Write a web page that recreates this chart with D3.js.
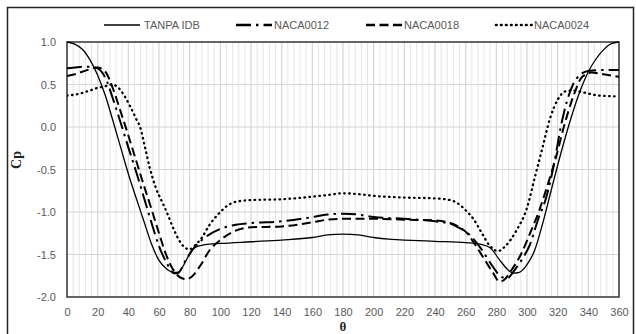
<!DOCTYPE html>
<html>
<head>
<meta charset="utf-8">
<script src="https://cdn.jsdelivr.net/npm/d3@7"></script>
<style>
  body { margin: 0; background: #fff; }
  svg { display: block; font-family: "Liberation Sans", Arial, sans-serif; }
</style>
</head>
<body>
<svg id="chart" width="636" height="334"></svg>
<script>
// Cp around the section (theta in degrees)
const tanpaTheta = [0, 5, 10, 15, 20, 25, 30, 35, 40, 45, 50, 55, 60, 65, 70, 72, 83, 90, 100, 120, 140, 160, 170, 180, 190, 200, 210, 220, 240, 260, 270, 276, 282, 287, 291, 295, 300, 305, 310, 315, 320, 325, 330, 335, 340, 345, 350, 355, 360];
const tanpaCp = [1.0, 0.975, 0.915, 0.79, 0.61, 0.37, 0.07, -0.24, -0.55, -0.83, -1.1, -1.37, -1.57, -1.67, -1.71, -1.71, -1.42, -1.385, -1.37, -1.35, -1.33, -1.30, -1.27, -1.26, -1.27, -1.30, -1.32, -1.33, -1.345, -1.36, -1.38, -1.42, -1.56, -1.67, -1.72, -1.71, -1.62, -1.45, -1.15, -0.8, -0.45, -0.12, 0.18, 0.44, 0.65, 0.8, 0.91, 0.98, 1.0];

const naca12Theta = [0, 5, 10, 15, 20, 25, 30, 35, 40, 45, 50, 55, 60, 65, 70, 72, 78, 83, 90, 100, 110, 120, 140, 160, 170, 180, 190, 200, 220, 240, 250, 255, 262, 270, 278, 283, 287, 292, 297, 302, 307, 313, 318, 322, 326, 330, 335, 340, 350, 360];
const naca12Cp = [0.69, 0.70, 0.71, 0.71, 0.69, 0.58, 0.33, 0.05, -0.24, -0.52, -0.82, -1.12, -1.4, -1.6, -1.72, -1.72, -1.55, -1.42, -1.3, -1.2, -1.15, -1.13, -1.11, -1.06, -1.03, -1.02, -1.03, -1.06, -1.08, -1.11, -1.14, -1.18, -1.26, -1.43, -1.65, -1.76, -1.78, -1.68, -1.55, -1.38, -1.1, -0.8, -0.4, 0.0, 0.3, 0.5, 0.62, 0.66, 0.67, 0.67];

const naca18Theta = [0, 5, 10, 15, 20, 25, 30, 35, 40, 45, 50, 55, 60, 65, 70, 75, 78, 82, 87, 93, 100, 110, 120, 140, 160, 170, 180, 190, 200, 220, 240, 250, 255, 261, 266, 272, 278, 282, 285, 290, 296, 302, 308, 314, 319, 324, 330, 336, 342, 350, 360];
const naca18Cp = [0.60, 0.62, 0.65, 0.68, 0.70, 0.65, 0.45, 0.18, -0.1, -0.39, -0.68, -0.96, -1.25, -1.52, -1.7, -1.78, -1.79, -1.75, -1.63, -1.45, -1.33, -1.22, -1.18, -1.17, -1.12, -1.09, -1.08, -1.08, -1.08, -1.09, -1.1, -1.13, -1.17, -1.25, -1.38, -1.55, -1.72, -1.82, -1.8, -1.68, -1.5, -1.25, -0.98, -0.65, -0.35, 0.0, 0.35, 0.59, 0.64, 0.62, 0.59];

const naca24Theta = [0, 5, 10, 15, 20, 25, 29, 33, 37, 41, 45, 48, 51, 54, 58, 62, 65, 70, 73, 77, 80, 83, 88, 93, 100, 105, 110, 120, 140, 160, 170, 180, 190, 200, 220, 240, 250, 255, 260, 265, 270, 275, 281, 286, 293, 300, 305, 310, 315, 320, 325, 330, 336, 347, 360];
const naca24Cp = [0.37, 0.38, 0.40, 0.43, 0.46, 0.48, 0.50, 0.47, 0.38, 0.25, 0.1, -0.02, -0.25, -0.48, -0.72, -0.88, -1.0, -1.22, -1.33, -1.42, -1.44, -1.4, -1.3, -1.15, -1.0, -0.92, -0.88, -0.86, -0.85, -0.82, -0.8, -0.78, -0.79, -0.81, -0.83, -0.84, -0.86, -0.9, -0.98, -1.08, -1.23, -1.38, -1.46, -1.4, -1.22, -0.95, -0.6, -0.25, 0.1, 0.32, 0.42, 0.43, 0.41, 0.37, 0.36];

const seriesNames = ["TANPA IDB", "NACA0012", "NACA0018", "NACA0024"];
const xTicks = [0, 20, 40, 60, 80, 100, 120, 140, 160, 180, 200, 220, 240, 260, 280, 300, 320, 340, 360];
const xMinorTicks = d3.range(0, 361, 4);
const yTicks = [-2.0, -1.5, -1.0, -0.5, 0.0, 0.5, 1.0];

const svg = d3.select("#chart");
const m = { left: 67, right: 17, top: 42, bottom: 37 };
const W = 636, H = 334;

const x = d3.scaleLinear().domain([0, 360]).range([m.left, W - m.right]);
const y = d3.scaleLinear().domain([-2, 1]).range([H - m.bottom, m.top]);

// outer chart border
svg.append("rect")
  .attr("x", 7.5).attr("y", 7.5)
  .attr("width", 626).attr("height", 340)
  .attr("fill", "none")
  .attr("stroke", "#222")
  .attr("stroke-width", 1.5);

// minor vertical grid
svg.append("g")
  .selectAll("line")
  .data(xMinorTicks.filter(t => t % 20 !== 0))
  .join("line")
  .attr("x1", d => x(d)).attr("x2", d => x(d))
  .attr("y1", y(1)).attr("y2", y(-2))
  .attr("stroke", "#e6e6e6");

// major grid
svg.append("g")
  .selectAll("line")
  .data(xTicks)
  .join("line")
  .attr("x1", d => x(d)).attr("x2", d => x(d))
  .attr("y1", y(1)).attr("y2", y(-2))
  .attr("stroke", "#d6d6d6")
  .attr("stroke-width", 1.2);

svg.append("g")
  .selectAll("line")
  .data(yTicks)
  .join("line")
  .attr("x1", x(0)).attr("x2", x(360))
  .attr("y1", d => y(d)).attr("y2", d => y(d))
  .attr("stroke", "#d6d6d6")
  .attr("stroke-width", 1.2);

// axes labels
const xAxis = d3.axisBottom(x).tickValues(xTicks).tickSize(0).tickPadding(11).tickFormat(d => d);
const gx = svg.append("g").attr("transform", `translate(0,${y(-2)})`).call(xAxis);
gx.select(".domain").remove();
gx.selectAll("text").attr("fill", "#595959").style("font-size", "11px");

const yAxis = d3.axisLeft(y).tickValues(yTicks).tickSize(0).tickPadding(11).tickFormat(d => d.toFixed(1));
const gy = svg.append("g").attr("transform", `translate(${x(0)},0)`).call(yAxis);
gy.select(".domain").remove();
gy.selectAll("text").attr("fill", "#595959").style("font-size", "11px");

// plot area border
svg.append("rect")
  .attr("x", x(0)).attr("y", y(1))
  .attr("width", x(360) - x(0)).attr("height", y(-2) - y(1))
  .attr("fill", "none")
  .attr("stroke", "#3a3a3a")
  .attr("stroke-width", 1.5);

const styles = [
  { width: 1.3, dash: null, cap: "butt" },
  { width: 2, dash: "15,5,2.5,5", cap: "butt" },
  { width: 2, dash: "9,4.5", cap: "butt" },
  { width: 2.3, dash: "0.6,4.4", cap: "round" },
];

const allSeries = [
  { theta: tanpaTheta, cp: tanpaCp },
  { theta: naca12Theta, cp: naca12Cp },
  { theta: naca18Theta, cp: naca18Cp },
  { theta: naca24Theta, cp: naca24Cp },
];

const line = d3.line()
  .x(d => x(d[0]))
  .y(d => y(d[1]))
  .curve(d3.curveMonotoneX);

svg.append("clipPath").attr("id", "plotclip")
  .append("rect")
  .attr("x", x(0)).attr("y", y(1) - 2)
  .attr("width", x(360) - x(0)).attr("height", y(-2) - y(1) + 4);

allSeries.forEach((s, i) => {
  const pts = s.theta.map((t, j) => [t, s.cp[j]]);
  const p = svg.append("path")
    .datum(pts)
    .attr("clip-path", "url(#plotclip)")
    .attr("fill", "none")
    .attr("stroke", "#000")
    .attr("stroke-width", styles[i].width)
    .attr("stroke-linecap", styles[i].cap)
    .attr("d", line);
  if (styles[i].dash) p.attr("stroke-dasharray", styles[i].dash);
});

// legend
const legendX = [104, 236, 366, 496];
seriesNames.forEach((name, i) => {
  const g = svg.append("g").attr("transform", `translate(${legendX[i]},25)`);
  const l = g.append("line")
    .attr("x1", 0).attr("x2", 36)
    .attr("stroke", "#000")
    .attr("stroke-linecap", styles[i].cap)
    .attr("stroke-width", styles[i].width + 0.3);
  if (styles[i].dash) l.attr("stroke-dasharray", styles[i].dash);
  g.append("text")
    .attr("x", i === 0 ? 40 : 38)
    .attr("dy", "0.35em")
    .attr("fill", "#595959")
    .style("font-size", "11px")
    .text(name);
});

// axis titles
svg.append("text")
  .attr("x", x(180)).attr("y", 331)
  .attr("text-anchor", "middle")
  .style("font-family", "'Liberation Serif', serif")
  .style("font-weight", "bold")
  .style("font-size", "13px")
  .attr("fill", "#222")
  .text("θ");

svg.append("text")
  .attr("transform", "translate(21,160) rotate(-90)")
  .attr("text-anchor", "middle")
  .style("font-family", "'Liberation Serif', serif")
  .style("font-weight", "bold")
  .style("font-size", "14px")
  .attr("fill", "#222")
  .text("Cp");
</script>
</body>
</html>
